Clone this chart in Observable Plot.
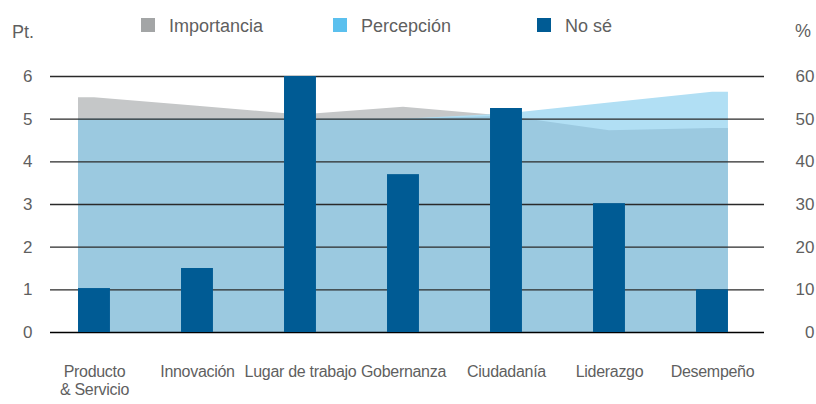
<!DOCTYPE html>
<html>
<head>
<meta charset="utf-8">
<script src="https://cdn.jsdelivr.net/npm/d3@7"></script>
<script src="https://cdn.jsdelivr.net/npm/@observablehq/plot@0.6"></script>
<style>
  html, body { margin: 0; padding: 0; background: #fff; }
  body { width: 816px; height: 404px; overflow: hidden; font-family: "Liberation Sans", Arial, sans-serif; color: #5f5f5f; }
  #head { position: relative; width: 816px; height: 44px; font-size: 18px; line-height: 18px; }
  #head span { position: absolute; white-space: nowrap; }
  #head .sw { width: 14px; height: 14px; top: 18px; }
  svg g[aria-label="x-axis tick label"] { font-size: 16px; letter-spacing: -0.3px; }
</style>
</head>
<body>
<div id="head"></div>
<div id="chart"></div>
<script>
// ---- data ----
const categories = ["Producto\n& Servicio", "Innovación", "Lugar de trabajo", "Gobernanza", "Ciudadanía", "Liderazgo", "Desempeño"];
const importancia = [5.5, 5.3, 5.1, 5.28, 5.07, 4.73, 4.78];   // Pt.
const percepcion  = [5.0, 5.0, 5.0, 5.0, 5.12, 5.38, 5.63];    // Pt.
const noSe        = [10.3, 15, 60, 37, 52.5, 30.2, 10];         // %
const ptTicks  = [0, 1, 2, 3, 4, 5, 6];
const pctTicks = [0, 10, 20, 30, 40, 50, 60];
const seriesNames = ["Importancia", "Percepción", "No sé"];
const seriesColors = ["#a3a5a6", "#5bc0ee", "#005b94"];

// ---- header: units + legend ----
const head = document.getElementById("head");
function span(txt, left, top) {
  const s = document.createElement("span");
  s.textContent = txt; s.style.left = left + "px"; s.style.top = top + "px";
  head.appendChild(s); return s;
}
span("Pt.", 12, 23);
span("%", 795, 22);
const legX = [141, 333, 537];
seriesNames.forEach((n, k) => {
  const sw = span("", legX[k], 18); sw.className = "sw"; sw.style.background = seriesColors[k];
  span(n, legX[k] + 28, 17);
});

// ---- chart ----
const hw = 0.155; // half bar width in category units
const rows = categories.map((c, i) => ({
  i, c, imp: importancia[i], perc: percepcion[i],
  both: Math.min(importancia[i], percepcion[i]), nose: noSe[i]
}));
const areaRows = [{...rows[0], i: -hw}, ...rows, {...rows[rows.length - 1], i: rows.length - 1 + hw}];

const chart = Plot.plot({
  width: 816,
  height: 360,
  marginLeft: 50,
  marginRight: 52,
  marginTop: 32,
  marginBottom: 72,
  style: { fontFamily: "Liberation Sans, Arial, sans-serif", fontSize: "17px", color: "#5f5f5f", background: "#fff" },
  x: { type: "linear", domain: [-0.427, 6.505], axis: null },
  y: { domain: [0, 6], axis: null },
  marks: [
    Plot.areaY(areaRows, { x: "i", y: "imp", fill: "#c5c7c8" }),
    Plot.areaY(areaRows, { x: "i", y: "perc", fill: "#b1dff4" }),
    Plot.areaY(areaRows, { x: "i", y: "both", fill: "#9bc9e0" }),
    Plot.ruleY(ptTicks.filter(d => d > 0), { stroke: "#2a2a2a", strokeWidth: 1.3 }),
    Plot.ruleY([0], { stroke: "#000", strokeWidth: 1.5 }),
    Plot.rectY(rows, { x1: d => d.i - hw, x2: d => d.i + hw, y: d => d.nose / 10, fill: "#005b94" }),
    Plot.axisY(ptTicks, { anchor: "left", tickSize: 0, tickPadding: 18, label: null }),
    Plot.axisY(pctTicks.map(v => v / 10), { anchor: "right", tickSize: 0, tickPadding: 50, textAnchor: "end", tickFormat: d => String(Math.round(d * 10)), label: null }),
    Plot.axisX(rows.map(d => d.i), { anchor: "bottom", tickSize: 0, tickPadding: 31, lineHeight: 1.15, tickFormat: i => categories[i], label: null })
  ]
});
document.getElementById("chart").appendChild(chart);
</script>
</body>
</html>
